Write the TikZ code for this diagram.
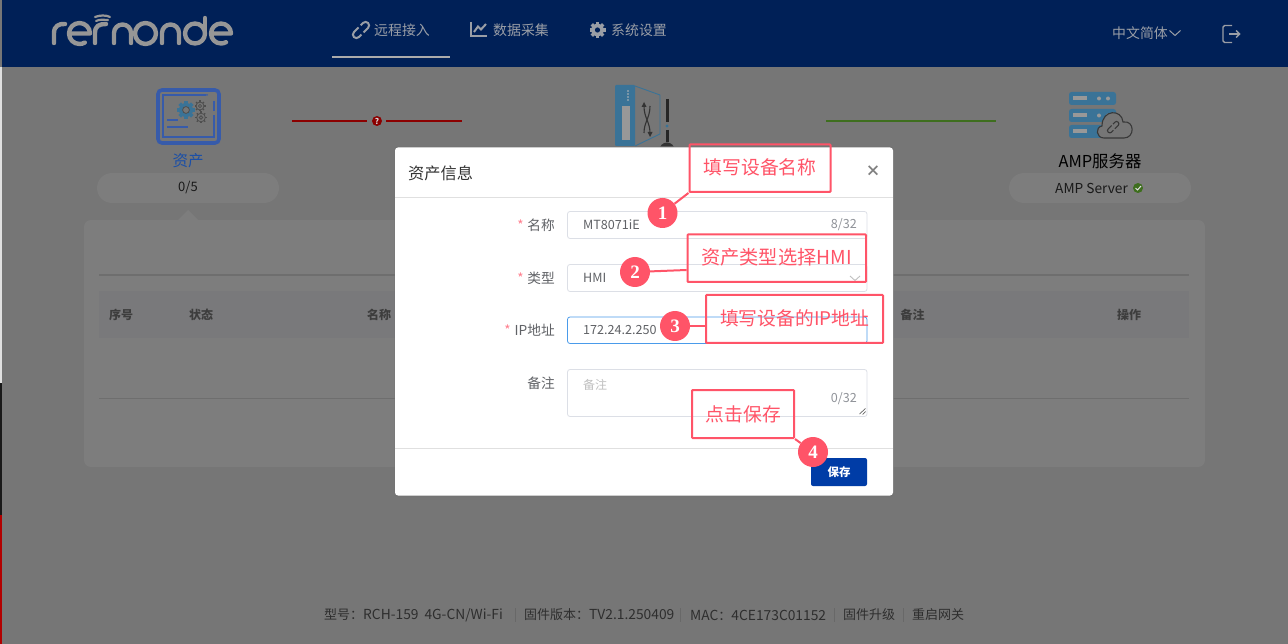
\documentclass[tikz,border=0pt]{standalone}
\usepackage{fontspec}
\setmainfont{Noto Sans CJK SC}
\newfontfamily\numfont{Liberation Serif}
\definecolor{bggray}{HTML}{767676}
\definecolor{cardgray}{HTML}{7D7D7D}
\definecolor{headblue}{HTML}{002057}
\definecolor{navgray}{HTML}{9A9EA6}
\definecolor{callout}{HTML}{FF5468}
\definecolor{iconblue}{HTML}{3A7397}
\definecolor{assetblue}{HTML}{375BAA}
\definecolor{inputline}{HTML}{DCDFE6}
\definecolor{inputtext}{HTML}{606266}
\definecolor{hint}{HTML}{909399}
\definecolor{tablerule}{HTML}{6E6E6E}
\definecolor{tableband}{HTML}{79797B}
\definecolor{okgreen}{HTML}{3E6E1E}
\definecolor{warnred}{HTML}{8B0000}
\definecolor{savebtn}{HTML}{003CA6}
\definecolor{focusblue}{HTML}{4A9BEA}
\definecolor{assettext}{HTML}{1A4FA8}
\definecolor{geargray}{HTML}{4E4E4E}
\newcommand{\fsz}[1]{\fontsize{#1}{#1}\selectfont}
\newcommand{\lat}[1]{{\fontsize{13.8}{13.8}\selectfont #1}}
\newcommand{\gearsolid}[4]{%
  \foreach \a in {0,45,...,315}{\draw[#4,line width=#3*0.42] ($(#1,#2)+(\a:#3*0.7)$) -- ($(#1,#2)+(\a:#3)$);}
  \fill[#4] (#1,#2) circle[radius=#3*0.78];
}
\newcommand{\gearline}[3]{%
  \foreach \a in {0,45,...,315}{\draw[geargray,line width=1.4] ($(#1,#2)+(\a:#3*0.72)$) -- ($(#1,#2)+(\a:#3)$);}
  \draw[geargray,line width=0.8] (#1,#2) circle[radius=#3*0.72];
  \draw[geargray,line width=0.8] (#1,#2) circle[radius=#3*0.3];
}
\usetikzlibrary{calc}
\tikzset{
  calloutbox/.style={draw=callout,line width=2,rounded corners=0.8,inner sep=0,text=callout,font=\fsz{18.6}},
  calloutdot/.style={circle,fill=callout,text=white,minimum size=30,inner sep=0,font=\numfont\bfseries\fsz{19}},
  calloutline/.style={draw=callout,line width=2},
  navtext/.style={text=navgray,font=\fsz{13.9},anchor=west,inner sep=0},
  tablehead/.style={text=black!76,font=\bfseries\fsz{12},inner sep=0},
  formlabel/.style={text=inputtext,font=\fsz{13.7},anchor=east,inner sep=0},
  reqstar/.style={text=callout!75,font=\fsz{13.5},inner sep=0},
  inputbox/.style={draw=inputline,line width=0.8,rounded corners=2.5,fill=white},
  inputval/.style={text=inputtext,font=\fsz{12.6},anchor=west,inner sep=0},
  counter/.style={text=hint,font=\fsz{12.6},anchor=east,inner sep=0},
  foot/.style={text=black!82,font=\fsz{13},anchor=west,inner sep=0},
  sep/.style={draw=black!12!bggray,line width=0.6},
  pill/.style={fill=cardgray,rounded corners=15},
  logo/.style={draw=black!41,line width=4.4,line cap=round,line join=round},
}
\begin{document}
\begin{tikzpicture}[x=1pt,y=-1pt]
\useasboundingbox (0,0) rectangle (1288,644);
\clip (0,0) rectangle (1288,644);
% page
\fill[bggray] (0,0) rectangle (1288,644);
\fill[headblue] (2,0) rectangle (1288,67);
\fill[black!12] (0,67) rectangle (2,383);
\fill[black!90] (0,383) rectangle (2,515);
\fill[red!70!black] (0,515) rectangle (2,644);
% logo
\draw[logo] (54,43) -- (54,33) .. controls (54,26) and (59,23.5) .. (65,24);
\draw[logo] (69,33.5) -- (90,33.5) arc[start angle=0,end angle=-300,radius=10.5];
\draw[logo] (95,43) -- (95,33) .. controls (95,26) and (99,24) .. (106,24);
\draw[logo,line width=2.2] (96,21) .. controls (100,19) and (104,20) .. (108,20);
\draw[logo,line width=2.2] (95,17) .. controls (100,15) and (106,15) .. (110,17);
\draw[logo] (114,43) -- (114,33) arc[start angle=-180,end angle=0,radius=8.5] -- (131,43);
\draw[logo] (145.5,33.5) circle[radius=10.5];
\draw[logo] (162,43) -- (162,33) arc[start angle=-180,end angle=0,radius=8.5] -- (179,43);
\draw[logo] (195,33.5) circle[radius=10];
\draw[logo] (205,33.5) -- (205,18);
\draw[logo] (211,33.5) -- (231,33.5) arc[start angle=0,end angle=-300,radius=10];
% nav icons
\begin{scope}[rotate around={45:(361,30)}]
  \draw[navgray,line width=2,rounded corners=3.5] (361,26.5) -- (351,26.5) -- (351,33.5) -- (358,33.5);
  \draw[navgray,line width=2,rounded corners=3.5] (361,33.5) -- (371,33.5) -- (371,26.5) -- (364,26.5);
\end{scope}
\draw[navgray,line width=2.2] (471,22) -- (471,36) -- (487,36);
\draw[navgray,line width=2] (474,32) -- (478,26.5) -- (481,29.5) -- (486,24);
\gearsolid{597.5}{30}{8}{navgray}
\fill[headblue] (597.5,30) circle[radius=2.6];
\node[navtext] (nav1) at (374,30) {远程接入};
\node[navtext] (nav2) at (493,30) {数据采集};
\node[navtext] (nav3) at (611,30) {系统设置};
\fill[black!33] (332,56.5) rectangle (450,58.5);
\node[navtext] (lang) at (1112,33) {中文简体};
\draw[navgray,line width=1] (1169.5,30.5) -- (1175,35.5) -- (1180.5,30.5);
\draw[navgray,line width=1.4,rounded corners=1.5] (1232,25.5) -- (1223,25.5) -- (1223,42.5) -- (1232,42.5);
\draw[navgray,line width=1.4] (1229,34) -- (1239.5,34);
\draw[navgray,line width=1.4] (1236,30.5) -- (1239.5,34) -- (1236,37.5);
% asset icon
\draw[assetblue,line width=3.6,rounded corners=4] (158,90) rectangle (219,143);
\draw[assetblue,line width=1.5] (206,95) -- (163,95) -- (163,137) -- (214,137) -- (214,115);
\fill[assetblue] (207,95) circle[radius=1];
\draw[assetblue,line width=2] (214,101) -- (214,111);
\draw[assetblue,line width=2] (167,120.5) -- (178,120.5);
\draw[assetblue,line width=2] (167,127.5) -- (188,127.5);
\gearline{200}{106}{5.5}
\gearline{201}{117.5}{6}
\gearsolid{186}{110}{9}{iconblue}
\fill[bggray] (186,110) circle[radius=3.4];
\draw[geargray,line width=0.8] (186,110) circle[radius=3.4];
\node[text=assettext,font=\fsz{15.5},inner sep=0] (assetlabel) at (188,161) {资产};
% status lines
\coordinate (ra) at (292,121); \coordinate (rb) at (367,121);
\coordinate (rc) at (386,121); \coordinate (rd) at (462,121);
\draw[warnred,line width=2] (ra) -- (rb);
\draw[warnred,line width=2] (rc) -- (rd);
\node[circle,fill=warnred,text=bggray!30,minimum size=10,inner sep=0,font=\bfseries\fsz{8}] (warn) at (377,121) {?};
\coordinate (ga) at (826,121); \coordinate (gb) at (996,121);
\draw[okgreen,line width=2] (ga) -- (gb);
% switch icon
\fill[iconblue,rounded corners=1] (615,85) rectangle (635,146);
\fill[bggray!75!white] (622,106) rectangle (630,140);
\foreach \yy in {91,94,97,100}{\fill[bggray!50!white] (628,\yy) circle[radius=0.8];}
\draw[iconblue,line width=0.9] (635,86) -- (660,95) -- (660,134) -- (635,146);
\draw[black!80,line width=1.1] (644,106) .. controls (644,118) and (650,122) .. (650,133);
\draw[black!80,line width=1.1] (650,106) .. controls (650,118) and (644,122) .. (644,133);
\fill[black!80] (644,102) -- (641.5,107) -- (646.5,107) -- cycle;
\fill[black!80] (650,137) -- (647.5,132) -- (652.5,132) -- cycle;
\draw[black!85,line width=3] (667,99) -- (667,122);
\fill[iconblue] (667,126) circle[radius=1.6];
\draw[black!85,line width=3] (667,130) -- (667,142);
\fill[black!80] (667,150) circle[radius=7.5];
% server icon
\foreach \yy in {92,109,125}{
  \fill[iconblue,rounded corners=2.5] (1069,\yy) rectangle (1116,\yy+13);
  \fill[bggray!75!white] (1073,\yy+4) rectangle (1087,\yy+8);
  \fill[bggray!75!white] (1099,\yy+6.5) circle[radius=2];
  \fill[bggray!75!white] (1108,\yy+6.5) circle[radius=2];
}
\draw[black!78,line width=1.1,fill=bggray] (1104,138) .. controls (1096,138) and (1095,127) .. (1102,126) .. controls (1102,109) and (1122,109) .. (1123,122) .. controls (1135,120) and (1135,138) .. (1124,138) -- cycle;
\begin{scope}[rotate around={45:(1113,127)}]
  \draw[black!78,line width=1.1,rounded corners=2] (1113,125) -- (1106,125) -- (1106,129.5) -- (1111,129.5);
  \draw[black!78,line width=1.1,rounded corners=2] (1113,129.5) -- (1120,129.5) -- (1120,125) -- (1115,125);
\end{scope}
\node[text=black,font=\fsz{16.4},inner sep=0] (amplabel) at (1100,161) {AMP服务器};
% pills
\fill[pill] (97,173) rectangle (279,203);
\fill[pill] (1009,173) rectangle (1191,203);
\node[text=black!90,font=\fsz{13},inner sep=0] (count) at (188,188) {0/5};
\node[text=black!90,font=\fsz{13.7},anchor=west,inner sep=0] (ampsrv) at (1055,188) {AMP Server};
\fill[okgreen] (1138,188) circle[radius=5];
\draw[white!80!bggray,line width=1] (1135.5,188) -- (1137.5,190) -- (1141,186);
% card
\fill[cardgray] (178,220) -- (188,210) -- (198,220) -- cycle;
\fill[cardgray,rounded corners=7] (84,220) rectangle (1205,467);
\draw[tablerule,line width=1.4] (99,275) -- (1189,275);
\fill[tableband] (99,291) rectangle (1189,338);
\draw[tablerule,line width=0.8] (99,398) -- (1189,398);
\node[tablehead] (th1) at (121,315) {序号};
\node[tablehead] (th2) at (201,315) {状态};
\node[tablehead] (th3) at (379,315) {名称};
\node[tablehead] (th4) at (912.5,315) {备注};
\node[tablehead] (th5) at (1129,315) {操作};
% footer
\node[foot] (f1) at (324,615) {型号：\lat{RCH-159\hspace{6pt}4G-CN/Wi-Fi}};
\node[foot] (f2) at (524,615) {固件版本：\lat{TV2.1.250409}};
\node[foot] (f3) at (690,615) {\lat{MAC}：\lat{4CE173C01152}};
\node[foot] (f4) at (843,615) {固件升级};
\node[foot] (f5) at (912,615) {重启网关};
\foreach \xx in {515.5,680.5,834.5,903.5}{\draw[sep] (\xx,608) -- (\xx,622);}
% modal
\fill[black!55,rounded corners=3] (394.5,146.5) rectangle (893.5,497);
\fill[white,rounded corners=3] (395,147.5) rectangle (893,495.5);
\draw[black!12,line width=0.8] (395,197.5) -- (893,197.5);
\draw[black!12,line width=0.8] (395,448.5) -- (893,448.5);
\node[text=black!80,font=\fsz{16.2},anchor=west,inner sep=0] (mtitle) at (408,173) {资产信息};
\node[text=black!50,font=\bfseries\fsz{15},inner sep=0] (mclose) at (873,171) {×};
% form
\draw[inputbox] (567.5,211.5) rectangle (867,238.5);
\draw[inputbox] (567.5,264.5) rectangle (867,291.5);
\draw[inputbox,draw=focusblue] (567.5,317) rectangle (867,343.5);
\draw[inputbox] (567.5,369.5) rectangle (867,416.5);
\node[formlabel] (l1) at (555,225) {名称};
\node[formlabel] (l2) at (555,278) {类型};
\node[formlabel] (l3) at (555,330) {IP地址};
\node[formlabel] (l4) at (555,383) {备注};
\node[reqstar] (s1) at (520.5,225.5) {*};
\node[reqstar] (s2) at (520.5,278.5) {*};
\node[reqstar] (s3) at (507.5,330.5) {*};
\node[inputval] (v1) at (583,225) {MT8071iE};
\node[inputval] (v2) at (583,278) {HMI};
\node[inputval] (v3) at (583,330) {172.24.2.250};
\node[inputval,text=black!25,font=\fsz{12}] (v4) at (583,385) {备注};
\node[counter] (c8) at (857,225) {8/32};
\node[counter] (c0) at (857,399) {0/32};
\draw[black!25,line width=0.9] (850,276) -- (855,280.5) -- (860,276);
\draw[black!60,line width=0.7] (859.5,414) -- (865.5,408.5);
\draw[black!60,line width=0.7] (862.5,414.5) -- (865.5,411.5);
% save
\node[fill=savebtn,rounded corners=2,text=white,font=\bfseries\fsz{11.5},minimum width=56,minimum height=28,inner sep=0] (save) at (839,472) {保存};
% callouts
\node[calloutbox,minimum width=141,minimum height=47.5] (b1) at (760,168.2) {};
\node[calloutbox,minimum width=178.5,minimum height=47.5] (b2) at (776.8,258.2) {};
\node[calloutbox,minimum width=177,minimum height=48] (b3) at (794.5,319) {};
\node[calloutbox,minimum width=102,minimum height=48] (b4) at (743,414) {};
\node[text=callout,font=\fsz{18.8},inner sep=0] (t1) at (760,167) {填写设备名称};
\node[text=callout,font=\fsz{19.2},inner sep=0] (t2) at (776.5,257) {资产类型选择HMI};
\node[text=callout,font=\fsz{18.8},inner sep=0] (t3) at (794.5,318) {填写设备的IP地址};
\node[text=callout,font=\fsz{18.8},inner sep=0] (t4) at (743.5,414) {点击保存};
\node[calloutdot] (c1) at (662.5,213) {1};
\node[calloutdot] (c2) at (635,272) {2};
\node[calloutdot] (c3) at (675,326) {3};
\node[calloutdot] (c4) at (813,452) {4};
\draw[calloutline] (c1) -- (b1.south west);
\draw[calloutline] (c2) -- (b2.west |- 0,270);
\draw[calloutline] (c3) -- (b3.west |- c3);
\draw[calloutline] (c4) -- (b4.south east);
\end{tikzpicture}
\end{document}
